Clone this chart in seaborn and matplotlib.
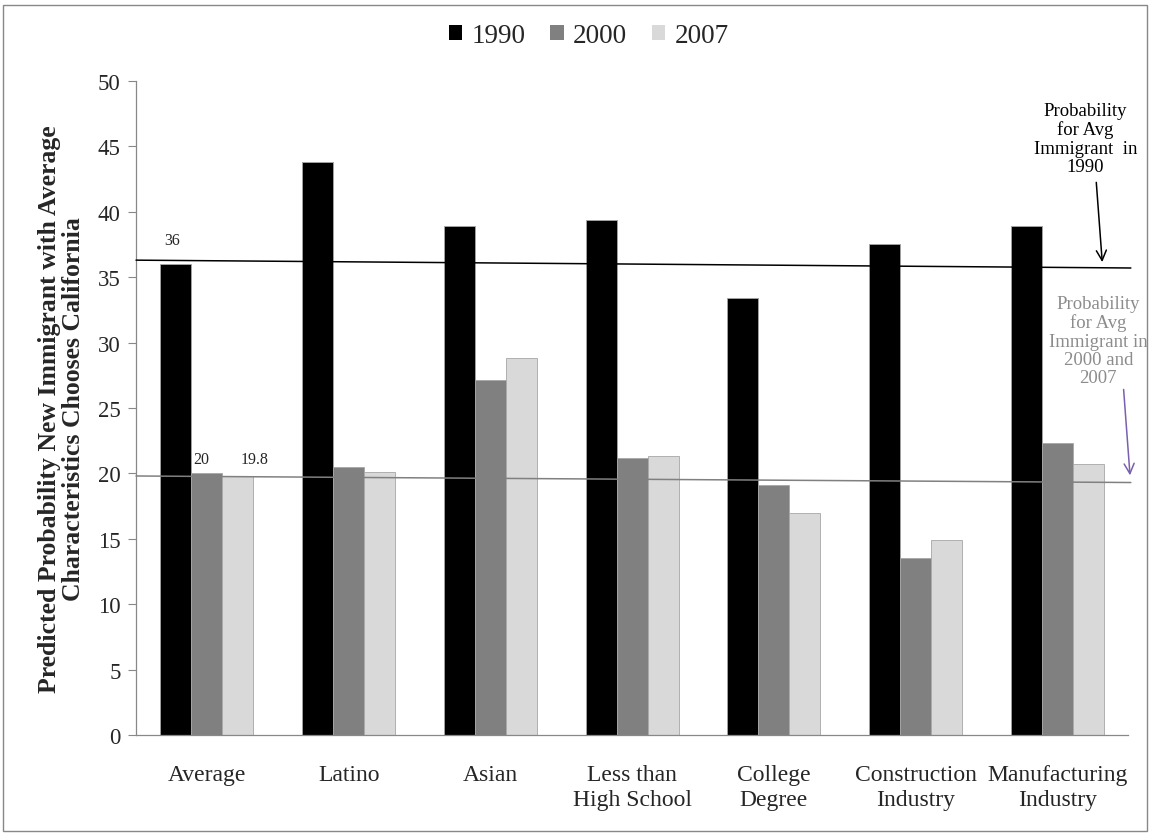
import matplotlib
matplotlib.use("Agg")
import matplotlib.pyplot as plt
from matplotlib.patches import Rectangle, Patch
import seaborn as sns
import pandas as pd

# Data
categories = ["Average", "Latino", "Asian", "Less than\nHigh School",
              "College\nDegree", "Construction\nIndustry", "Manufacturing\nIndustry"]
years = ["1990", "2000", "2007"]
vals_1990 = [36.0, 43.8, 38.9, 39.4, 33.4, 37.5, 38.9]
vals_2000 = [20.0, 20.5, 27.1, 21.2, 19.1, 13.5, 22.3]
vals_2007 = [19.8, 20.1, 28.8, 21.3, 17.0, 14.9, 20.7]
avg_labels = ["36", "20", "19.8"]
# reference levels for the average immigrant (start, end)
ref_1990 = [36.3, 35.7]
ref_later = [19.8, 19.3]
y_ticks = [0, 5, 10, 15, 20, 25, 30, 35, 40, 45, 50]

colors = {"1990": "#000000", "2000": "#808080", "2007": "#d9d9d9"}

df = pd.DataFrame({
    "category": categories * 3,
    "year": [y for y in years for _ in categories],
    "value": vals_1990 + vals_2000 + vals_2007,
})

sns.set_theme(style="white")
plt.rcParams["font.family"] = ["Liberation Serif", "DejaVu Serif"]

fig = plt.figure(figsize=(11.5, 8.37), dpi=100)
ax = fig.add_axes([0.1183, 0.1207, 0.8626, 0.7814])

sns.barplot(data=df, x="category", y="value", hue="year", order=categories,
            hue_order=years, palette=colors, width=0.656, gap=0,
            linewidth=0.6, edgecolor="#a6a6a6", saturation=1, legend=False, ax=ax)

ax.set_xlim(-0.5, 6.5)
ax.set_ylim(0, 50)
ax.set_yticks(y_ticks)
ax.set_yticklabels([str(t) for t in y_ticks], fontsize=16.5)
ax.set_xticks(range(len(categories)))
ax.set_xticklabels(categories, fontsize=17, linespacing=1.25)
ax.set_xticks([i - 0.5 for i in range(len(categories) + 1)], minor=True)
ax.tick_params(axis="x", which="major", length=0, pad=21)
ax.tick_params(axis="x", which="minor", length=7, width=0.8, color="#888888",
               direction="out")
ax.tick_params(axis="y", which="major", length=6, width=0.8, color="#888888",
               direction="out", left=True, pad=5)
ax.set_xlabel("")
ax.set_ylabel("Predicted Probability New Immigrant with Average\n"
              "Characteristics Chooses California",
              fontsize=18.5, fontweight="bold", linespacing=1.05, labelpad=9)
for s in ["top", "right"]:
    ax.spines[s].set_visible(False)
for s in ["left", "bottom"]:
    ax.spines[s].set_color("#888888")
    ax.spines[s].set_linewidth(0.9)
ax.grid(False)

# Reference lines for the average immigrant
ax.plot([-0.5, 6.52], ref_1990, color="black", lw=1.1, clip_on=False, zorder=3)
ax.plot([-0.5, 6.52], ref_later, color="#808080", lw=1.1, clip_on=False, zorder=3)

# Value labels on the "Average" group
bars = [ax.containers[i][0] for i in range(3)]
dxs = [-0.03, -0.04, 0.12]
dys = [1.2, 0.5, 0.7]
for bar, lab, dx, dy in zip(bars, avg_labels, dxs, dys):
    cx = bar.get_x() + bar.get_width() / 2 + dx
    ax.text(cx, float(lab) + dy, lab, ha="center", va="bottom", fontsize=11.5)

# Annotations
ax.annotate("Probability\nfor Avg\nImmigrant  in\n1990",
            xy=(0.974, 0.723), xycoords="axes fraction",
            xytext=(0.957, 0.912), textcoords="axes fraction",
            ha="center", va="center", fontsize=13.5, color="black",
            linespacing=1.1, annotation_clip=False,
            arrowprops=dict(arrowstyle="->", color="black", lw=1.1,
                            shrinkA=3, shrinkB=0, mutation_scale=18,
                            relpos=(0.6, 0.0)))
ax.annotate("Probability\nfor Avg\nImmigrant in\n2000 and\n2007",
            xy=(1.002, 0.397), xycoords="axes fraction",
            xytext=(0.970, 0.603), textcoords="axes fraction",
            ha="center", va="center", fontsize=13.5, color="#8c8c8c",
            linespacing=1.1, annotation_clip=False,
            arrowprops=dict(arrowstyle="->", color="#7a5fae", lw=1.1,
                            shrinkA=0, shrinkB=0, mutation_scale=18,
                            relpos=(0.75, 0.06)))

# Legend
handles = [Patch(facecolor=colors[y], edgecolor="none") for y in years]
fig.legend(handles, years, loc="center", bbox_to_anchor=(0.512, 0.956),
           ncol=3, frameon=False, fontsize=19.5, handlelength=0.5,
           handleheight=0.5, handletextpad=0.35, columnspacing=0.9)

# Outer border
fig.patches.append(Rectangle((0.003, 0.006), 0.994, 0.987, transform=fig.transFigure,
                             fill=False, edgecolor="#888888", lw=1.0))

fig.savefig("out.png", dpi=100)
